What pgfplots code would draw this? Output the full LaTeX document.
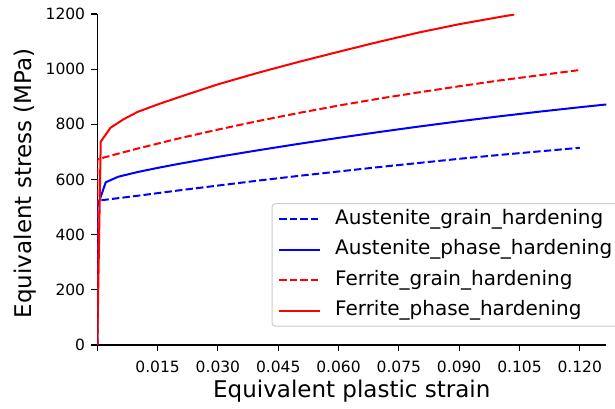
\documentclass[border=0pt]{standalone}
\usepackage{fontspec}
\setmainfont{DejaVu Sans}
\usepackage{pgfplots}
\usepackage{pgfplotstable}
\pgfplotsset{compat=1.18}

% Equivalent stress (MPa) against equivalent plastic strain
\pgfplotstableread{
x y
0 0
0 523
0.005 532
0.01 541
0.02 560
0.03 578
0.04 596
0.05 613
0.06 629
0.07 645
0.08 660
0.09 675
0.10 689
0.11 702
0.12 715
}\austgrain

\pgfplotstableread{
x y
0 0
0 501
0.0021 590
0.0052 610
0.01 627
0.015 642
0.02 656
0.03 682
0.04 706
0.05 729
0.06 751
0.07 772
0.08 792
0.09 811
0.10 829
0.11 846
0.12 862
0.1266 872
}\austphase

\pgfplotstableread{
x y
0 0
0 673
0.005 693
0.01 712
0.02 748
0.03 781
0.04 812
0.05 841
0.06 868
0.07 893
0.08 916
0.09 938
0.10 959
0.11 978
0.12 997
}\ferrgrain

\pgfplotstableread{
x y
0 0
0.00085 737
0.0033 788
0.0065 818
0.01 845
0.015 872
0.02 897
0.03 945
0.04 987
0.05 1026
0.06 1063
0.07 1099
0.08 1133
0.09 1163
0.10 1189
0.1037 1198
}\ferrphase

\begin{document}
\begin{tikzpicture}
\begin{axis}[
  scale only axis, width=509pt, height=331pt,
  xmin=0, xmax=0.1266, ymin=0, ymax=1200,
  axis x line*=bottom, axis y line*=left,
  axis line style={line width=1.1pt, -},
  every tick/.style={black, line width=1.1pt},
  tick align=outside, major tick length=6pt,
  xtick={0,0.015,0.030,0.045,0.060,0.075,0.090,0.105,0.120},
  xticklabels={,0.015,0.030,0.045,0.060,0.075,0.090,0.105,0.120},
  ytick={0,200,400,600,800,1000,1200},
  yticklabels={0,200,400,600,800,1000,1200},
  tick label style={font=\fontsize{15.5}{18}\selectfont, inner sep=0pt},
  xticklabel style={anchor=north, yshift=-9.5pt},
  yticklabel style={anchor=east, xshift=-6pt},
  xlabel={Equivalent plastic strain},
  ylabel={Equivalent stress (MPa)},
  xlabel style={at={([yshift=-52.3pt]rel axis cs:0.5,0)}, anchor=base, inner sep=0pt, font=\fontsize{23}{27}\selectfont},
  ylabel style={at={([shift={(-65.6pt,-4pt)}]rel axis cs:0,0.5)}, anchor=base, inner sep=0pt, font=\fontsize{23}{27}\selectfont},
  legend image code/.code={\draw[#1] (0pt,0pt) -- (41pt,0pt);},
  legend cell align=left,
  legend style={at={(rel axis cs:0.3426,0.0553)}, anchor=south west,
    draw=black!20, line width=1pt, rounded corners=3pt,
    fill=white, fill opacity=0.8, text opacity=1,
    inner xsep=6pt, inner ysep=6.5pt, column sep=14pt, row sep=12.5pt,
    font=\fontsize{20}{24}\selectfont,
    nodes={inner sep=0pt, text height=14pt, text depth=4pt}},
]
\addplot[blue, line width=2pt, dash pattern=on 7.4pt off 3.2pt] table[x=x,y=y] {\austgrain};
\addlegendentry{Austenite\_grain\_hardening}
\addplot[blue, line width=2pt] table[x=x,y=y] {\austphase};
\addlegendentry{Austenite\_phase\_hardening\hspace*{6pt}}
\addplot[red, line width=2pt, dash pattern=on 7.4pt off 3.2pt] table[x=x,y=y] {\ferrgrain};
\addlegendentry{Ferrite\_grain\_hardening}
\addplot[red, line width=2pt] table[x=x,y=y] {\ferrphase};
\addlegendentry{Ferrite\_phase\_hardening}
\end{axis}
\pgfresetboundingbox
\path[use as bounding box] ([shift={(-97.3pt,-63pt)}]current axis.south west) rectangle ++(615pt,408pt);
\end{tikzpicture}
\end{document}
